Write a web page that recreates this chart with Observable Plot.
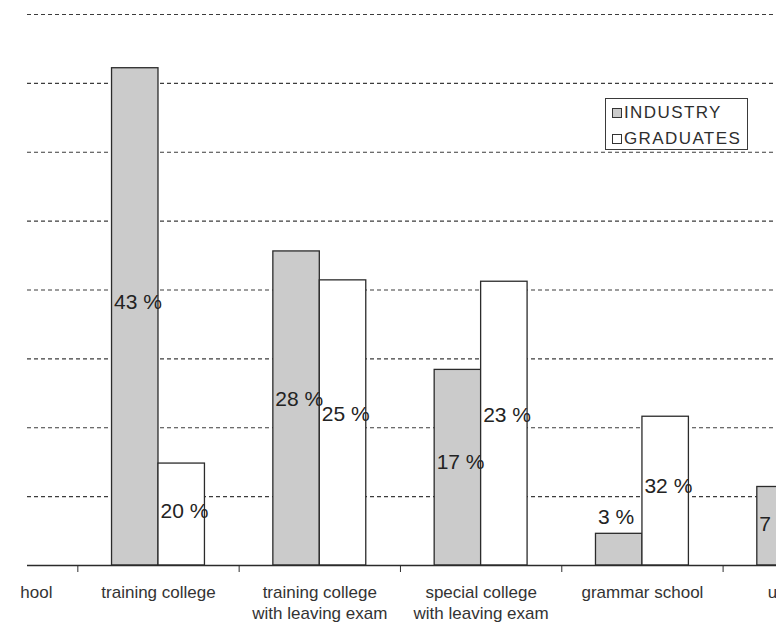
<!DOCTYPE html>
<html>
<head>
<meta charset="utf-8">
<script src="https://cdn.jsdelivr.net/npm/d3@7"></script>
<script src="https://cdn.jsdelivr.net/npm/@observablehq/plot@0.6"></script>
<style>
  html, body { margin: 0; padding: 0; background: #fff; }
  #page { position: relative; width: 776px; height: 625px; overflow: hidden; background: #fff;
          font-family: "Liberation Sans", Arial, sans-serif; }
  #clip { position: absolute; left: 20px; top: 0; width: 756px; height: 625px; overflow: hidden; }
  #legend { position: absolute; left: 605px; top: 98px; width: 141px; height: 50px;
            background: #fff; border: 1.3px solid #3a3a3a; }
  #legend .row { height: 26px; line-height: 26px; font-size: 17px; letter-spacing: 1.4px;
                 color: #2e2e2e; white-space: nowrap; padding-left: 6px; }
  #legend .row:first-child { margin-top: 1px; }
  #legend .sw { display: inline-block; width: 8px; height: 8px; border: 1.2px solid #333;
                margin-right: 2px; vertical-align: 0px; }
</style>
</head>
<body>
<div id="page">
  <div id="clip"></div>
  <div id="legend"></div>
</div>
<script>
// ---- data ----
const categories = [
  "primary school",
  "training college",
  "training college\nwith leaving exam",
  "special college\nwith leaving exam",
  "grammar school",
  "university"
];
const seriesNames = ["INDUSTRY", "GRADUATES"];
// bar heights (gridline step = 5)
const industryValues  = [null, 36.1, 22.8, 14.2, 2.3, 5.7];
const graduatesValues = [null, 7.4, 20.7, 20.6, 10.8, null];
// printed labels
const industryLabels  = [null, "43 %", "28 %", "17 %", "3 %", "7 %"];
const graduatesLabels = [null, "20 %", "25 %", "23 %", "32 %", null];
const gridValues = [5, 10, 15, 20, 25, 30, 35, 40];
const seriesFills = ["#cbcbcb", "#ffffff"];

// ---- derived tables ----
const half = 0.288; // half of a category group, in category units
const cats = categories.map((name, k) => ({k, name}));
const industry = categories.map((c, k) => ({k, value: industryValues[k], label: industryLabels[k]}))
  .filter(d => d.value != null);
const graduates = categories.map((c, k) => ({k, value: graduatesValues[k], label: graduatesLabels[k]}))
  .filter(d => d.value != null);
const boundaries = categories.slice(0, -1).map((c, k) => k + 0.5);
const labelY = d => d.value < 4 ? d.value + 1.2 : d.value * 0.53;

const chart = Plot.plot({
  width: 756,
  height: 625,
  marginLeft: 7,
  marginRight: 0,
  marginTop: 14,
  marginBottom: 60,
  style: {fontFamily: "Liberation Sans, Arial, sans-serif", color: "#2e2e2e", background: "#fff"},
  x: {domain: [0.188, 4.831], ticks: boundaries, tickFormat: () => "", tickSize: 7, label: null},
  y: {domain: [0, 40], axis: null},
  marks: [
    Plot.ruleY(gridValues, {stroke: "#3c3c3c", strokeWidth: 1.2, strokeDasharray: "4,3"}),
    Plot.rect(industry, {x1: d => d.k - half, x2: d => d.k, y1: 0, y2: "value",
      fill: seriesFills[0], stroke: "#2b2b2b", strokeWidth: 1.3}),
    Plot.rect(graduates, {x1: d => d.k, x2: d => d.k + half, y1: 0, y2: "value",
      fill: seriesFills[1], stroke: "#2b2b2b", strokeWidth: 1.3}),
    Plot.ruleY([0], {stroke: "#2b2b2b", strokeWidth: 1.5}),
    Plot.text(industry, {x: d => d.k - half, y: labelY, text: "label", textAnchor: "start",
      dx: 2, fontSize: 21, fill: "#232323"}),
    Plot.text(graduates, {x: "k", y: labelY, text: "label", textAnchor: "start",
      dx: 2, fontSize: 21, fill: "#232323"}),
    Plot.text(cats, {x: "k", y: 0, text: "name", lineAnchor: "top", dy: 17, lineHeight: 1.25,
      fontSize: 17, fill: "#333", ariaLabel: "category labels"})
  ]
});
document.getElementById("clip").appendChild(chart);
d3.select(chart).selectAll('g[aria-label="category labels"] text').style("letter-spacing", "0.5px");

// legend
const legend = d3.select("#legend");
seriesNames.forEach((name, i) => {
  const row = legend.append("div").attr("class", "row");
  row.append("span").attr("class", "sw").style("background", seriesFills[i]);
  row.append("span").text(name);
});
</script>
</body>
</html>
